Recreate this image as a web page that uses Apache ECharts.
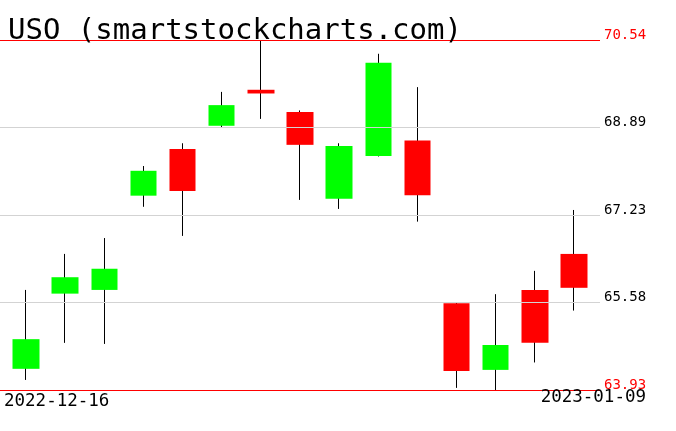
<!DOCTYPE html>
<html><head><meta charset="utf-8">
<script src="https://cdn.jsdelivr.net/npm/echarts@6/dist/echarts.min.js"></script>
<style>html,body{margin:0;padding:0;background:#fff}#c{width:676px;height:431px}</style>
</head><body><div id="c"></div>
<script>
const titleText = 'USO (smartstockcharts.com)';
const dates = ['2022-12-16','2022-12-19','2022-12-20','2022-12-21','2022-12-22','2022-12-23','2022-12-27','2022-12-28','2022-12-29','2022-12-30','2023-01-03','2023-01-04','2023-01-05','2023-01-06','2023-01-09'];
const opens  = [64.33, 65.75, 65.82, 67.60, 68.48, 68.92, 69.60, 69.18, 67.54, 68.35, 68.64, 65.57, 64.31, 65.82, 66.50];
const closes = [64.89, 66.06, 66.22, 68.07, 67.69, 69.31, 69.53, 68.56, 68.54, 70.11, 67.61, 64.29, 64.78, 64.82, 65.86];
const lows   = [64.12, 64.82, 64.80, 67.39, 66.84, 68.88, 69.05, 67.52, 67.35, 68.34, 67.11, 63.97, 63.93, 64.45, 65.43];
const highs  = [65.82, 66.50, 66.80, 68.16, 68.59, 69.56, 70.54, 69.21, 68.59, 70.28, 69.65, 65.58, 65.74, 66.18, 67.33];
const yTicks = [63.93, 65.58, 67.23, 68.89, 70.54];
const dateLabels = ['2022-12-16', '2023-01-09'];

const yMin = yTicks[0], yMax = yTicks[yTicks.length - 1];
const mono = '"DejaVu Sans Mono", "Liberation Mono", monospace';

const bodyData = dates.map((d, i) => [opens[i], closes[i], Math.min(opens[i], closes[i]), Math.max(opens[i], closes[i])]);
const wickData = dates.map((d, i) => [lows[i], lows[i], lows[i], highs[i]]);

const chart = echarts.init(document.getElementById('c'), null, {renderer: 'canvas'});
chart.setOption({
  animation: false,
  backgroundColor: '#fff',
  title: {
    text: titleText, left: 3, top: 12,
    textStyle: {fontFamily: mono, fontSize: 29, fontWeight: 'normal', color: '#000'}
  },
  grid: [
    {left: 6.4, width: 587.2, top: 40, height: 350},
    {left: 0, width: 600, top: 40, height: 350}
  ],
  xAxis: [
    {type: 'category', data: dates, gridIndex: 0, show: false, boundaryGap: true},
    {type: 'value', gridIndex: 1, min: 0, max: 1, show: false}
  ],
  yAxis: [
    {type: 'value', gridIndex: 0, min: yMin, max: yMax, show: false},
    {type: 'value', gridIndex: 1, min: yMin, max: yMax, show: false}
  ],
  series: [
    {
      type: 'candlestick', xAxisIndex: 0, yAxisIndex: 0, z: 2,
      barWidth: 0,
      data: wickData,
      itemStyle: {color: '#000', color0: '#000', borderColor: '#000', borderColor0: '#000', borderColorDoji: '#000', borderWidth: 1}
    },
    {
      type: 'candlestick', xAxisIndex: 0, yAxisIndex: 0, z: 3,
      barWidth: '69%',
      data: bodyData,
      itemStyle: {color: '#00ff00', color0: '#ff0000', borderColor: '#00ff00', borderColor0: '#ff0000', borderWidth: 0}
    },
    {
      type: 'line', xAxisIndex: 1, yAxisIndex: 1, z: 4,
      data: [],
      markLine: {
        silent: true, symbol: 'none', z: 5, animation: false,
        data: yTicks.map((v, i) => {
          const edge = (i === 0 || i === yTicks.length - 1);
          return {
            yAxis: v,
            lineStyle: {color: edge ? '#ff0000' : '#d3d3d3', type: 'solid', width: 1},
            label: {color: edge ? '#ff0000' : '#000'}
          };
        }),
        label: {
          show: true, position: 'end', distance: 4,
          fontFamily: mono, fontSize: 14, lineHeight: 10,
          formatter: p => yTicks[p.dataIndex].toFixed(2) + '\n'
        }
      }
    }
  ],
  graphic: [
    {type: 'text', left: 4, top: 392, z: 10,
     style: {text: dateLabels[0], font: '17.5px ' + mono, fill: '#000'}},
    {type: 'text', right: 30, top: 388, z: 10,
     style: {text: dateLabels[1], font: '17.5px ' + mono, fill: '#000'}}
  ]
});
</script>
</body></html>
